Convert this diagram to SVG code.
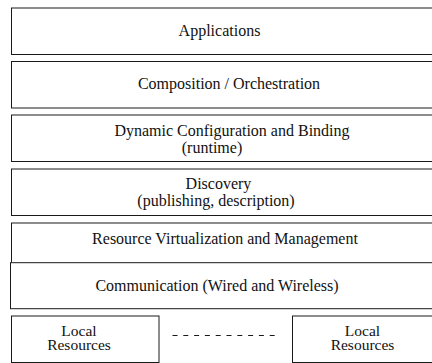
<svg xmlns="http://www.w3.org/2000/svg" width="432" height="363" viewBox="0 0 432 363">
<style>
.box{fill:#fff;stroke:#1a1a1a;stroke-width:1}
text{font-family:'Liberation Serif','Times New Roman','DejaVu Serif',serif;font-size:16px;fill:#111;text-anchor:middle}
.s{font-size:15.5px}
.dash{stroke:#1a1a1a;stroke-width:1;stroke-dasharray:5 5.8;fill:none}
</style>
<rect width="432" height="363" fill="#fff"/>
<g id="applications">
<rect class="box" x="11.5" y="8" width="430" height="46.5"/>
<text font-family="Liberation Serif, serif" x="219.5" y="35.5">Applications</text>
</g>
<g id="composition">
<rect class="box" x="11.5" y="61.5" width="430" height="46.5"/>
<text font-family="Liberation Serif, serif" x="229" y="88.5">Composition / Orchestration</text>
</g>
<g id="dynamic">
<rect class="box" x="11.5" y="115" width="430" height="46.5"/>
<text font-family="Liberation Serif, serif" x="232" y="136">Dynamic Configuration and Binding</text>
<text font-family="Liberation Serif, serif" x="212" y="153">(runtime)</text>
</g>
<g id="discovery">
<rect class="box" x="11.5" y="169" width="430" height="46.5"/>
<text font-family="Liberation Serif, serif" x="218.5" y="189">Discovery</text>
<text font-family="Liberation Serif, serif" x="216" y="206">(publishing, description)</text>
</g>
<g id="resource">
<rect class="box" x="11.5" y="223" width="430" height="46"/>
<text font-family="Liberation Serif, serif" x="225" y="244">Resource Virtualization and Management</text>
</g>
<g id="communication">
<rect class="box" x="10.5" y="262.7" width="431" height="46"/>
<text font-family="Liberation Serif, serif" x="217" y="290.5">Communication (Wired and Wireless)</text>
</g>
<g id="local-left">
<rect class="box" x="11.5" y="316" width="147.5" height="46.5"/>
<text class="s" font-family="Liberation Serif, serif" x="79" y="336">Local</text>
<text class="s" font-family="Liberation Serif, serif" x="79" y="350">Resources</text>
</g>
<g id="local-right">
<rect class="box" x="292.5" y="316" width="150" height="46.5"/>
<text class="s" font-family="Liberation Serif, serif" x="362.5" y="336">Local</text>
<text class="s" font-family="Liberation Serif, serif" x="362.5" y="350">Resources</text>
</g>
<g id="connectors">
<line class="dash" x1="172.5" y1="335.5" x2="275.5" y2="335.5"/>
</g>
</svg>
